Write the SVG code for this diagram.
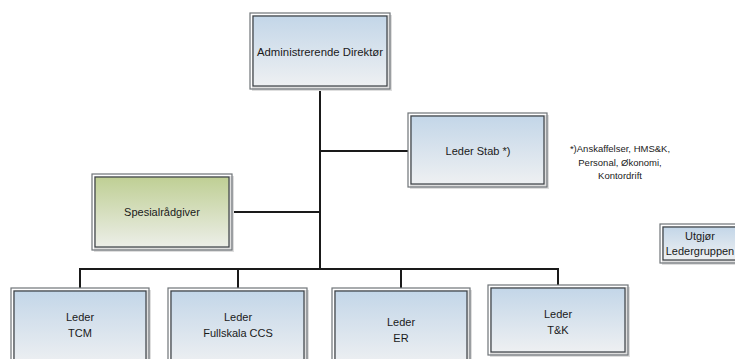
<svg xmlns="http://www.w3.org/2000/svg" width="735" height="359" viewBox="0 0 735 359">
<style>
.ob{fill:none;stroke:#6f7478;stroke-width:1.2}
.sh{fill:#dedede}
.ib{stroke:#3a3f44;stroke-width:1.2}
.blue{fill:url(#gb)}
.green{fill:url(#gg)}
.t{font-family:"Liberation Sans",Arial,sans-serif;font-size:11px;fill:#1a1a1a;text-anchor:middle}
.n{font-family:"Liberation Sans",Arial,sans-serif;font-size:9.5px;fill:#1a1a1a;text-anchor:middle}
.c{fill:none;stroke:#1a1a1a;stroke-width:2}
</style>
<defs>
<linearGradient id="gb" x1="0" y1="0" x2="0" y2="1"><stop offset="0" stop-color="#c3d6e8"/><stop offset="1" stop-color="#eef0f2"/></linearGradient>
<linearGradient id="gg" x1="0" y1="0" x2="0" y2="1"><stop offset="0" stop-color="#bfcf94"/><stop offset="1" stop-color="#eceee8"/></linearGradient>
</defs>
<rect width="735" height="359" fill="#ffffff"/>
<g id="connectors">
<path class="c" d="M320 89V269"/>
<path class="c" d="M320 151H408"/>
<path class="c" d="M232 212H320"/>
<path class="c" d="M80 288V269H558V285"/>
<path class="c" d="M238 269V288"/>
<path class="c" d="M401 269V288"/>
</g>
<g id="admin">
<rect class="sh" x="252" y="15" width="140" height="76"/>
<rect class="ob" x="250" y="13" width="140" height="76" fill="#f4f4f4"/>
<rect class="blue ib" x="253" y="16" width="134" height="70"/>
<text class="t" x="320" y="56" textLength="126" lengthAdjust="spacingAndGlyphs">Administrerende Direktør</text>
</g>
<g id="stab">
<rect class="sh" x="410" y="115" width="139" height="74"/>
<rect class="ob" x="408" y="113" width="139" height="74" fill="#f4f4f4"/>
<rect class="blue ib" x="411" y="116" width="133" height="68"/>
<text class="t" x="478" y="155">Leder Stab *)</text>
</g>
<g id="note">
<text class="n" x="620" y="152">*)Anskaffelser, HMS&amp;K,</text>
<text class="n" x="620" y="166">Personal, Økonomi,</text>
<text class="n" x="620" y="179">Kontordrift</text>
</g>
<g id="spesial">
<rect class="sh" x="94" y="176" width="140" height="76"/>
<rect class="ob" x="92" y="174" width="140" height="76" fill="#f4f4f4"/>
<rect class="green ib" x="95" y="177" width="134" height="70"/>
<text class="t" x="162" y="216">Spesialrådgiver</text>
</g>
<g id="utgjor">
<rect class="sh" x="662" y="226" width="80" height="39"/>
<rect class="ob" x="660" y="224" width="80" height="39" fill="#f4f4f4"/>
<rect class="blue ib" x="663" y="227" width="74" height="33"/>
<text class="t" x="700" y="240">Utgjør</text>
<text class="t" x="700" y="255">Ledergruppen</text>
</g>
<g id="tcm">
<rect class="sh" x="13" y="290" width="138" height="80"/>
<rect class="ob" x="11" y="288" width="138" height="80" fill="#f4f4f4"/>
<rect class="blue ib" x="14" y="291" width="132" height="74"/>
<text class="t" x="80" y="321">Leder</text>
<text class="t" x="80" y="337">TCM</text>
</g>
<g id="fullskala">
<rect class="sh" x="170" y="290" width="139" height="80"/>
<rect class="ob" x="168" y="288" width="139" height="80" fill="#f4f4f4"/>
<rect class="blue ib" x="171" y="291" width="133" height="74"/>
<text class="t" x="238" y="321">Leder</text>
<text class="t" x="238" y="337">Fullskala CCS</text>
</g>
<g id="er">
<rect class="sh" x="334" y="290" width="138" height="80"/>
<rect class="ob" x="332" y="288" width="138" height="80" fill="#f4f4f4"/>
<rect class="blue ib" x="335" y="291" width="132" height="74"/>
<text class="t" x="401" y="326">Leder</text>
<text class="t" x="401" y="342">ER</text>
</g>
<g id="tk">
<rect class="sh" x="490" y="287" width="140" height="70"/>
<rect class="ob" x="488" y="285" width="140" height="70" fill="#f4f4f4"/>
<rect class="blue ib" x="491" y="288" width="134" height="64"/>
<text class="t" x="558" y="318">Leder</text>
<text class="t" x="558" y="334">T&amp;K</text>
</g>
</svg>
